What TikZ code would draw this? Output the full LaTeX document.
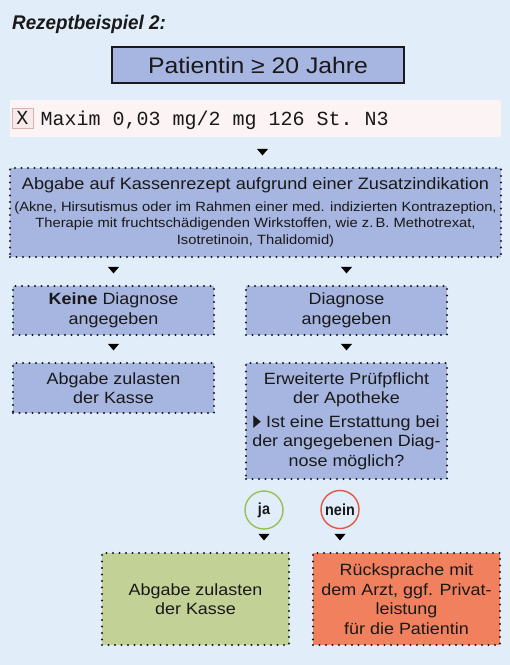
\documentclass[tikz,border=0pt]{standalone}
\usepackage{fontspec}
\setmainfont{Liberation Sans}[FakeStretch=1.1]
\newfontfamily\titlefont{Liberation Sans}[FakeStretch=0.95]
\newfontfamily\circfont{Liberation Sans}[FakeStretch=0.9]
\newfontfamily\symfont{DejaVu Sans}
\setmonofont{Liberation Mono}
\usetikzlibrary{arrows.meta,decorations.markings}
\definecolor{bg}{RGB}{226,237,250}
\definecolor{boxblue}{RGB}{167,182,224}
\definecolor{boxgreen}{RGB}{194,209,150}
\definecolor{boxred}{RGB}{240,128,94}
\definecolor{stripfill}{RGB}{252,244,244}
\definecolor{xborder}{RGB}{214,178,178}
\definecolor{xfill}{RGB}{249,234,234}
\definecolor{jagreen}{RGB}{150,192,84}
\definecolor{neinred}{RGB}{226,88,66}
\definecolor{txt}{RGB}{25,25,25}
\begin{document}
\begin{tikzpicture}[x=1pt,y=-1pt,
  dotbox/.style={draw=txt, line width=2.3pt, dash pattern=on 0pt off 6.5pt, line cap=round,
    fill=boxblue, inner sep=0pt, align=center, text=txt,
    font=\fontsize{16.3}{19.5}\selectfont},
  tipc/.style={decoration={markings, mark=at position -11.5pt with {\arrow{Triangle[width=11pt,length=6.5pt]}}}, decorate},
  circ/.style={circle, line width=1.4pt, minimum size=38pt, inner sep=0pt, text=txt,
    font=\circfont\bfseries\fontsize{16}{16}\selectfont}
]
\fill[bg] (0,0) rectangle (510,665);
\useasboundingbox (0,0) rectangle (510,665);

\node[anchor=base west, inner sep=0pt, text=txt, font=\titlefont\bfseries\itshape\fontsize{19.8}{20}\selectfont] (title) at (12,29.5) {Rezeptbeispiel 2:};

\node[draw=txt, line width=1.3pt, fill=boxblue, minimum width=292pt, minimum height=36pt, inner sep=0pt, text=txt, font=\fontsize{22.5}{24}\selectfont] (pat) at (258,65) {Patientin ≥ 20 Jahre};

\node[fill=stripfill, minimum width=491pt, minimum height=37pt, inner sep=0pt] (strip) at (255.5,118.5) {};
\node[draw=xborder, fill=xfill, line width=0.8pt, minimum width=21pt, minimum height=20pt, inner sep=0pt, text=txt, font=\ttfamily\fontsize{20}{20}\selectfont] (xb) at (22.5,118) {X};
\node[anchor=base west, inner sep=0pt, text=txt, font=\ttfamily\fontsize{20}{20}\selectfont] (rx) at (40.5,125.5) {Maxim 0,03 mg/2 mg 126 St. N3};

\node[dotbox, minimum width=491pt, minimum height=89pt, font=\fontsize{13.4}{16.5}\selectfont] (big) at (255.5,212.5)
  {{\fontsize{16.5}{19}\selectfont Abgabe auf Kassenrezept aufgrund einer Zusatzindikation}\\[5pt]
   (Akne, Hirsutismus oder im Rahmen einer med. indizierten Kontrazeption,\\
   Therapie mit fruchtschädigenden Wirkstoffen, wie z.\,B. Methotrexat,\\
   Isotretinoin, Thalidomid)};

\node[dotbox, minimum width=201pt, minimum height=49pt] (keine) at (113.5,310.5) {\textbf{Keine} Diagnose\\angegeben};
\node[dotbox, minimum width=201pt, minimum height=49pt] (diag) at (346.5,310.5) {Diagnose\\angegeben};

\node[dotbox, minimum width=201pt, minimum height=50pt] (abg1) at (113.5,388) {Abgabe zulasten\\der Kasse};
\node[dotbox, minimum width=201pt, minimum height=116pt] (erw) at (346.5,421)
  {Erweiterte Prüfpflicht\\der Apotheke\\[4pt]
   {\symfont\fontsize{16}{16}\selectfont\raisebox{0.3pt}{\scalebox{0.62}[1.05]{▶}}}\ Ist eine Erstattung bei\\
   der angegebenen Diag-\\nose möglich?};

\node[circ, draw=jagreen] (ja) at (264,510) {ja};
\node[circ, draw=neinred] (nein) at (340,509.5) {nein};

\node[dotbox, fill=boxgreen, minimum width=187pt, minimum height=92pt] (green) at (195.5,599) {Abgabe zulasten\\der Kasse};
\node[dotbox, fill=boxred, minimum width=187pt, minimum height=92pt] (red) at (406.5,599)
  {Rücksprache mit\\dem Arzt, ggf. Privat-\\leistung\\für die Patientin};

\path[tipc] ([xshift=4.5pt]strip.south -| pat.south) -- ([xshift=4.5pt]big.north -| pat.south);
\path[tipc] (big.south -| keine.north) -- (keine.north);
\path[tipc] (big.south -| diag.north) -- (diag.north);
\path[tipc] (keine.south) -- (abg1.north);
\path[tipc] (diag.south) -- (erw.north);
\path[tipc] (ja.south) -- (ja.south |- green.north);
\path[tipc] (nein.south) -- (nein.south |- red.north);
\end{tikzpicture}
\end{document}
